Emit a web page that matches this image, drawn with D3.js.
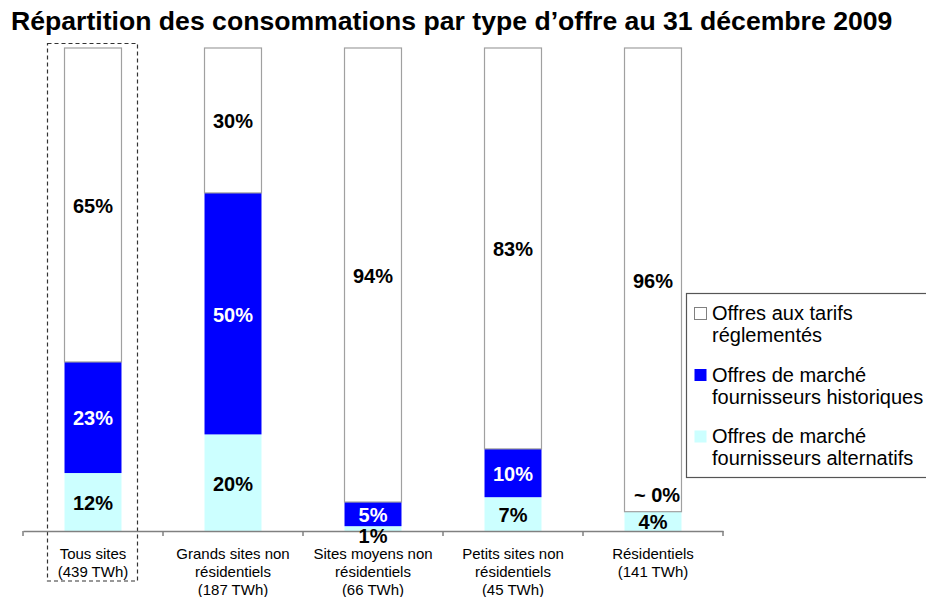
<!DOCTYPE html>
<html>
<head>
<meta charset="utf-8">
<script src="https://cdn.jsdelivr.net/npm/d3@7"></script>
<style>
  body { margin: 0; background: #fff; }
  svg { display: block; font-family: "Liberation Sans", Arial, sans-serif; }
</style>
</head>
<body>
<div id="chart"></div>
<script>
// data
var title = "Répartition des consommations par type d’offre au 31 décembre 2009";
var categories = ["Tous sites", "Grands sites", "Sites moyens", "Petits sites", "Résidentiels"];
var categoryLines = [
    ["Tous sites", "(439 TWh)"],
    ["Grands sites non", "résidentiels", "(187 TWh)"],
    ["Sites moyens non", "résidentiels", "(66 TWh)"],
    ["Petits sites non", "résidentiels", "(45 TWh)"],
    ["Résidentiels", "(141 TWh)"]
];
var alternatifs = [12, 20, 1, 7, 4];
var historiques = [23, 50, 5, 10, 0];
var tarifs = [65, 30, 94, 83, 96];
var seriesKeys = ["alternatifs", "historiques", "tarifs"];
var legendLines = [
    ["Offres aux tarifs", "réglementés"],
    ["Offres de marché", "fournisseurs historiques"],
    ["Offres de marché", "fournisseurs alternatifs"]
];

var W = 926, H = 597;
var colors = { tarifs: "#ffffff", historiques: "#0000ff", alternatifs: "#ccffff" };
var textColors = { tarifs: "#000", historiques: "#fff", alternatifs: "#000" };

var svg = d3.select("#chart").append("svg")
    .attr("width", W)
    .attr("height", H);

// title, sized to fill its line
var t = svg.append("text")
    .attr("x", 11)
    .attr("y", 30)
    .attr("font-weight", "bold")
    .attr("font-size", 20)
    .attr("fill", "#000")
    .text(title);
var tw = t.node().getComputedTextLength();
t.attr("font-size", 20 * 882 / tw);

var rows = categories.map(function(c, i) {
    return { cat: c, alternatifs: alternatifs[i], historiques: historiques[i], tarifs: tarifs[i] };
});
var stacked = d3.stack().keys(seriesKeys)(rows);
var segments = [];
stacked.forEach(function(s) {
    s.forEach(function(p) { segments.push({ key: s.key, p: p }); });
});

var x = d3.scaleBand()
    .domain(categories)
    .range([23, 723])
    .paddingInner(0.593)
    .paddingOuter(0.2965);

var y = d3.scaleLinear()
    .domain([0, 100])
    .range([531, 48]);

// dashed frame round the first category
svg.append("rect")
    .attr("x", x(categories[0]) + x.bandwidth() / 2 - 45.5)
    .attr("y", y(100) - 4.5)
    .attr("width", 90)
    .attr("height", 581 - y(100) + 4.5)
    .attr("fill", "none")
    .attr("stroke", "#333")
    .attr("stroke-width", 1.2)
    .attr("stroke-dasharray", "4,3");

// bars
svg.append("g").selectAll("rect")
    .data(segments)
    .enter().append("rect")
    .attr("x", function(d) { return x(d.p.data.cat); })
    .attr("y", function(d) { return y(d.p[1]); })
    .attr("width", x.bandwidth())
    .attr("height", function(d) { return y(d.p[0]) - y(d.p[1]); })
    .attr("fill", function(d) { return colors[d.key]; })
    .attr("stroke", function(d) { return d.key == "tarifs" ? "#a0a0a0" : "none"; })
    .attr("stroke-width", 1.2);

// axis line with ticks between categories
var axis = d3.axisBottom(x).tickValues([]).tickSizeOuter(0);
var gAxis = svg.append("g")
    .attr("transform", "translate(0," + y(0) + ")")
    .call(axis);
gAxis.select(".domain").attr("stroke", "#808080").attr("stroke-width", 1.5);
var bounds = categories.map(function(c) { return x(c) + x.bandwidth() / 2 - x.step() / 2; });
bounds.push(bounds[bounds.length - 1] + x.step());
gAxis.selectAll("line.sep")
    .data(bounds)
    .enter().append("line")
    .attr("class", "sep")
    .attr("x1", function(d) { return d; })
    .attr("x2", function(d) { return d; })
    .attr("y1", 0)
    .attr("y2", 5)
    .attr("stroke", "#808080")
    .attr("stroke-width", 1.5);

// category labels
var catText = svg.selectAll("text.cat")
    .data(categories)
    .enter().append("text")
    .attr("class", "cat")
    .attr("text-anchor", "middle")
    .attr("font-size", 15)
    .attr("fill", "#000");
catText.each(function(c, i) {
    d3.select(this).selectAll("tspan")
        .data(categoryLines[i])
        .enter().append("tspan")
        .attr("x", x(c) + x.bandwidth() / 2)
        .attr("y", function(d, j) { return y(0) + 28 + j * 18; })
        .text(function(d) { return d; });
});

// value labels, drawn over all bars
svg.append("g").selectAll("text")
    .data(segments)
    .enter().append("text")
    .attr("text-anchor", "middle")
    .attr("font-size", 20)
    .attr("font-weight", "bold")
    .attr("x", function(d) {
        var v = d.p[1] - d.p[0];
        return x(d.p.data.cat) + x.bandwidth() / 2 + (v == 0 ? 4 : 0);
    })
    .attr("y", function(d) {
        var top = y(d.p[1]), bot = y(d.p[0]);
        if (bot - top < 10) {
            // too thin: put the label outside the segment
            if (d.p[0] == 0) return bot + 12;
            return top - 10;
        }
        return (top + bot) / 2 + 8;
    })
    .attr("fill", function(d) {
        var h = y(d.p[0]) - y(d.p[1]);
        return h < 10 ? "#000" : textColors[d.key];
    })
    .text(function(d) {
        var v = d.p[1] - d.p[0];
        return v == 0 ? "~ 0%" : v + "%";
    });

// legend
var lg = svg.append("g");
lg.append("rect")
    .attr("x", 686.5)
    .attr("y", 293.5)
    .attr("width", 260)
    .attr("height", 184)
    .attr("fill", "#fff")
    .attr("stroke", "#555")
    .attr("stroke-width", 1.2);

var legendKeys = ["tarifs", "historiques", "alternatifs"];
var item = lg.selectAll("g.item")
    .data(legendKeys)
    .enter().append("g")
    .attr("class", "item")
    .attr("transform", function(d, i) { return "translate(694," + (320 + i * 61.5) + ")"; });

item.append("rect")
    .attr("x", 0.5)
    .attr("y", -12.5)
    .attr("width", 12)
    .attr("height", 12)
    .attr("fill", function(d) { return colors[d]; })
    .attr("stroke", function(d) { return d == "tarifs" ? "#808080" : "none"; });

item.append("text")
    .attr("font-size", 20)
    .attr("fill", "#000")
    .each(function(d, i) {
        d3.select(this).selectAll("tspan")
            .data(legendLines[i])
            .enter().append("tspan")
            .attr("x", 18)
            .attr("y", function(s, j) { return j * 22; })
            .text(function(s) { return s; });
    });
</script>
</body>
</html>
